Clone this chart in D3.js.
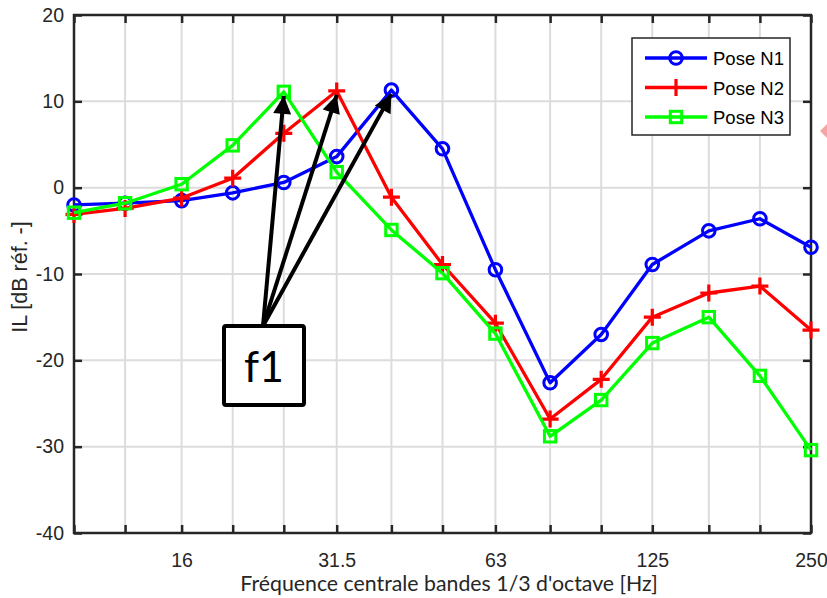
<!DOCTYPE html>
<html>
<head>
<meta charset="utf-8">
<script src="https://d3js.org/d3.v7.min.js"></script>
<style>
  body { margin: 0; background: #fff; }
  svg { display: block; }
</style>
</head>
<body>
<div id="chart"></div>
<script>
// 1/3 octave band centre frequencies (Hz)
var freqs = [10, 12.5, 16, 20, 25, 31.5, 40, 50, 63, 80, 100, 125, 160, 200, 250];
var xTickLabels = [16, 31.5, 63, 125, 250];
var yTicks = [-40, -30, -20, -10, 0, 10, 20];

var poseN1 = [-2.0, -1.8, -1.5, -0.6, 0.6, 3.6, 11.3, 4.5, -9.5, -22.6, -17.0, -8.9, -5.0, -3.6, -6.9];
var poseN2 = [-3.1, -2.4, -1.2, 1.1, 6.3, 11.2, -1.1, -8.9, -15.7, -26.8, -22.2, -15.0, -12.2, -11.4, -16.5];
var poseN3 = [-2.9, -1.8, 0.4, 4.9, 11.1, 1.8, -4.9, -9.9, -16.9, -28.8, -24.6, -18.0, -15.0, -21.8, -30.4];

var seriesNames = ['Pose N1', 'Pose N2', 'Pose N3'];
var seriesColors = ['#0000ff', '#ff0000', '#00ff00'];
var seriesMarkers = ['circle', 'plus', 'square'];

// f1 arrows point to the peak of each series
var f1Targets = [
    {f: 25, v: 11.1},
    {f: 31.5, v: 11.2},
    {f: 40, v: 11.3}
];

var W = 827, H = 598;
var margin = {top: 15, right: 16, bottom: 65, left: 74};
var width = W - margin.left - margin.right,
    height = H - margin.top - margin.bottom;

var svg = d3.select('#chart').append('svg')
    .attr('width', W)
    .attr('height', H);

var g = svg.append('g')
    .attr('transform', 'translate(' + margin.left + ',' + margin.top + ')');

var x = d3.scaleLog().domain([10, 250]).range([0, width]);
var y = d3.scaleLinear().domain([-40, 20]).range([height, 0]);

var axisColor = '#262626';
var tickFont = '"Liberation Sans", Arial, sans-serif';

// Grid
g.append('g').selectAll('line.vg')
    .data(freqs.slice(1, -1))
    .enter().append('line')
    .attr('x1', function (d) { return x(d); })
    .attr('x2', function (d) { return x(d); })
    .attr('y1', 0).attr('y2', height)
    .attr('stroke', '#dcdcdc').attr('stroke-width', 2);

g.append('g').selectAll('line.hg')
    .data(yTicks.slice(1, -1))
    .enter().append('line')
    .attr('y1', function (d) { return y(d); })
    .attr('y2', function (d) { return y(d); })
    .attr('x1', 0).attr('x2', width)
    .attr('stroke', '#dcdcdc').attr('stroke-width', 2);

// Axes (ticks inward, box on)
var xAxis = d3.axisBottom(x).tickValues(freqs).tickSizeInner(-8).tickSizeOuter(0)
    .tickFormat(function (d) { return xTickLabels.indexOf(d) >= 0 ? d : ''; });
var xAxisTop = d3.axisTop(x).tickValues(freqs).tickSizeInner(-8).tickSizeOuter(0).tickFormat('');
var yAxis = d3.axisLeft(y).tickValues(yTicks).tickSizeInner(-8).tickSizeOuter(0)
    .tickFormat(function (d) { return String(d); });
var yAxisRight = d3.axisRight(y).tickValues(yTicks).tickSizeInner(-8).tickSizeOuter(0).tickFormat('');

function styleAxis(sel) {
    sel.select('.domain').remove();
    sel.selectAll('line').attr('stroke', axisColor).attr('stroke-width', 2.5);
    sel.selectAll('text')
        .attr('fill', axisColor)
        .style('font-family', tickFont)
        .style('font-size', '19.5px');
}

g.append('g').attr('transform', 'translate(0,' + height + ')').call(xAxis).call(styleAxis)
    .selectAll('text').attr('y', 0).attr('dy', '1.75em');
g.append('g').call(xAxisTop).call(styleAxis);
g.append('g').call(yAxis).call(styleAxis)
    .selectAll('text').attr('x', -10);
g.append('g').attr('transform', 'translate(' + width + ',0)').call(yAxisRight).call(styleAxis);

g.append('rect')
    .attr('x', 0).attr('y', 0)
    .attr('width', width).attr('height', height)
    .attr('fill', 'none')
    .attr('stroke', axisColor)
    .attr('stroke-width', 2.5);

// Axis labels
svg.append('text')
    .attr('x', 449)
    .attr('y', 591)
    .attr('text-anchor', 'middle')
    .attr('fill', axisColor)
    .style('font-family', 'Lato, "Open Sans", sans-serif')
    .style('font-size', '21.3px')
    .text("Fréquence centrale bandes 1/3 d'octave [Hz]");

svg.append('text')
    .attr('transform', 'translate(27,277) rotate(-90)')
    .attr('text-anchor', 'middle')
    .attr('fill', axisColor)
    .style('font-family', tickFont)
    .style('font-size', '21.5px')
    .text('IL [dB réf. -]');

// Markers
function drawMarker(sel, type, color) {
    if (type === 'circle') {
        sel.append('circle').attr('r', 6.3)
            .attr('fill', 'none').attr('stroke', color).attr('stroke-width', 3);
    } else if (type === 'plus') {
        sel.append('path').attr('d', 'M-8.5,0H8.5M0,-8.5V8.5')
            .attr('fill', 'none').attr('stroke', color).attr('stroke-width', 3.2);
    } else {
        sel.append('rect').attr('x', -5.7).attr('y', -5.7).attr('width', 11.4).attr('height', 11.4)
            .attr('fill', 'none').attr('stroke', color).attr('stroke-width', 3);
    }
}

var allSeries = [poseN1, poseN2, poseN3];
var line = d3.line()
    .x(function (d, i) { return x(freqs[i]); })
    .y(function (d) { return y(d); });

allSeries.forEach(function (vals, k) {
    var sg = g.append('g');
    sg.append('path')
        .datum(vals)
        .attr('d', line)
        .attr('fill', 'none')
        .attr('stroke', seriesColors[k])
        .attr('stroke-width', 3.3)
        .attr('stroke-linejoin', 'round');
    sg.selectAll('g.m')
        .data(vals)
        .enter().append('g')
        .attr('transform', function (d, i) { return 'translate(' + x(freqs[i]) + ',' + y(d) + ')'; })
        .each(function () { drawMarker(d3.select(this), seriesMarkers[k], seriesColors[k]); });
});

// f1 annotation
var boxX = 224, boxY = 326, boxW = 80, boxH = 79;
var startX = 263 - margin.left, startY = boxY - margin.top;

svg.append('defs').append('marker')
    .attr('id', 'arrowhead')
    .attr('viewBox', '0 0 10 10')
    .attr('refX', 10).attr('refY', 5)
    .attr('markerWidth', 5.5).attr('markerHeight', 4.5)
    .attr('markerUnits', 'strokeWidth')
    .attr('orient', 'auto')
    .append('path')
    .attr('d', 'M0,0L10,5L0,10z')
    .attr('fill', '#000');

g.selectAll('line.arrow')
    .data(f1Targets)
    .enter().append('line')
    .attr('x1', startX).attr('y1', startY)
    .attr('x2', function (d) { return x(d.f); })
    .attr('y2', function (d) { return y(d.v) + 4; })
    .attr('stroke', '#000')
    .attr('stroke-width', 4)
    .attr('marker-end', 'url(#arrowhead)');

svg.append('rect')
    .attr('x', boxX).attr('y', boxY)
    .attr('width', boxW).attr('height', boxH)
    .attr('rx', 2)
    .attr('fill', '#fff')
    .attr('stroke', '#000')
    .attr('stroke-width', 4);

svg.append('text')
    .attr('x', boxX + boxW / 2)
    .attr('y', boxY + 56)
    .attr('text-anchor', 'middle')
    .attr('fill', '#000')
    .style('font-family', 'Lato, "Open Sans", sans-serif')
    .style('font-size', '43px')
    .text('f1');

// Legend
var legend = svg.append('g').attr('transform', 'translate(632,38)');
legend.append('rect')
    .attr('width', 158).attr('height', 97)
    .attr('fill', '#fff')
    .attr('stroke', axisColor)
    .attr('stroke-width', 1.5);

seriesNames.forEach(function (name, k) {
    var row = legend.append('g').attr('transform', 'translate(0,' + (20 + k * 29.5) + ')');
    row.append('line')
        .attr('x1', 13).attr('x2', 75)
        .attr('stroke', seriesColors[k]).attr('stroke-width', 3.3);
    var m = row.append('g').attr('transform', 'translate(44,0)');
    drawMarker(m, seriesMarkers[k], seriesColors[k]);
    row.append('text')
        .attr('x', 81).attr('y', 7)
        .attr('fill', '#000')
        .style('font-family', tickFont)
        .style('font-size', '18.5px')
        .text(name);
});

// small pink diamond fragment at the right edge
svg.append('path')
    .attr('d', 'M820,131L827,124L827,138Z')
    .attr('fill', '#f4a6a6');
</script>
</body>
</html>
